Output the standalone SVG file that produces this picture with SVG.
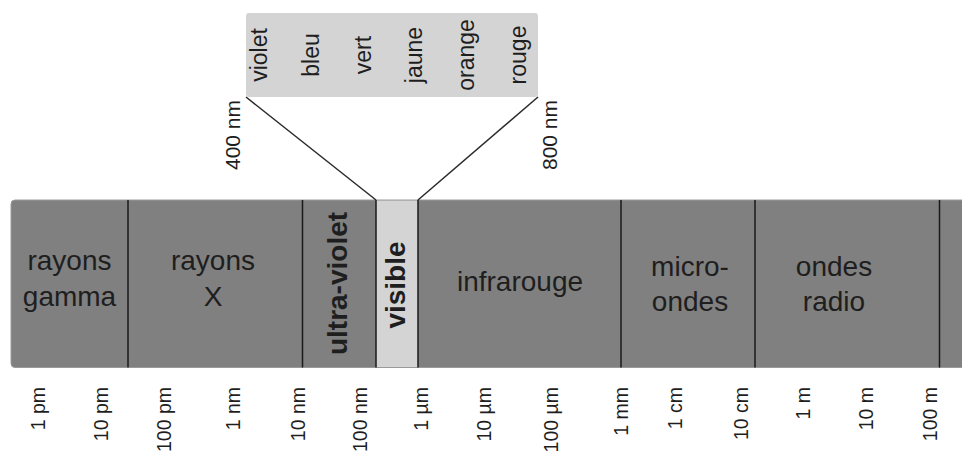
<svg xmlns="http://www.w3.org/2000/svg" width="962" height="453" viewBox="0 0 962 453">
<style>
  text { font-family: "Liberation Sans", Arial, sans-serif; fill: #1e1e1e; }
  .band { font-size: 28px; text-anchor: middle; }
  .bold { font-weight: bold; }
  .color { font-size: 23px; text-anchor: middle; }
  .wl { font-size: 19.5px; text-anchor: end; }
  .nm { font-size: 21px; text-anchor: end; }
  .div { stroke: #1a1a1a; stroke-width: 1.5; }
  .conn { stroke: #2a2a2a; stroke-width: 1.5; fill: none; }
</style>
<rect width="962" height="453" fill="#ffffff"/>

<g id="spectrum-bar">
  <rect x="11" y="200" width="980" height="167.5" rx="4" ry="4" fill="#808080" stroke="#9a9a9a" stroke-width="1"/>
  <rect x="376" y="200.5" width="42" height="166.5" fill="#d4d4d4"/>
  <line class="div" x1="128" y1="200" x2="128" y2="367.5"/>
  <line class="div" x1="302.5" y1="200" x2="302.5" y2="367.5"/>
  <line class="div" x1="376" y1="200" x2="376" y2="367.5"/>
  <line class="div" x1="418" y1="200" x2="418" y2="367.5"/>
  <line class="div" x1="621" y1="200" x2="621" y2="367.5"/>
  <line class="div" x1="755" y1="200" x2="755" y2="367.5"/>
  <line class="div" x1="939.5" y1="200" x2="939.5" y2="367.5"/>
</g>

<g id="gamma">
  <text class="band" x="69.5" y="270">rayons</text>
  <text class="band" x="69.5" y="306">gamma</text>
</g>
<g id="xray">
  <text class="band" x="213" y="270">rayons</text>
  <text class="band" x="213" y="306">X</text>
</g>
<g id="uv">
  <text class="band bold" transform="translate(347,283.5) rotate(-90)">ultra-violet</text>
</g>
<g id="visible">
  <text class="band bold" transform="translate(405,285) rotate(-90)">visible</text>
</g>
<g id="infrared">
  <text class="band" x="520" y="291">infrarouge</text>
</g>
<g id="microwave">
  <text class="band" x="690" y="276">micro-</text>
  <text class="band" x="690" y="311">ondes</text>
</g>
<g id="radio">
  <text class="band" x="834" y="276">ondes</text>
  <text class="band" x="834" y="311">radio</text>
</g>

<g id="visible-detail">
  <rect x="246" y="13" width="292" height="84" rx="3" ry="3" fill="#d4d4d4"/>
  <text class="color" transform="translate(267,55) rotate(-90)">violet</text>
  <text class="color" transform="translate(319,55) rotate(-90)">bleu</text>
  <text class="color" transform="translate(371,55) rotate(-90)">vert</text>
  <text class="color" transform="translate(422,55) rotate(-90)">jaune</text>
  <text class="color" transform="translate(474,55) rotate(-90)">orange</text>
  <text class="color" transform="translate(526,55) rotate(-90)">rouge</text>
</g>

<g id="visible-bounds">
  <text class="nm" transform="translate(240,100) rotate(-90)">400 nm</text>
  <text class="nm" transform="translate(557,100) rotate(-90)">800 nm</text>
</g>

<g id="connectors">
  <line class="conn" x1="246" y1="97" x2="376" y2="200"/>
  <line class="conn" x1="538" y1="97" x2="418" y2="200"/>
</g>

<g id="scale">
  <text class="wl" transform="translate(45,387) rotate(-90)">1 pm</text>
  <text class="wl" transform="translate(108,387) rotate(-90)">10 pm</text>
  <text class="wl" transform="translate(171,387) rotate(-90)">100 pm</text>
  <text class="wl" transform="translate(240,387) rotate(-90)">1 nm</text>
  <text class="wl" transform="translate(305,387) rotate(-90)">10 nm</text>
  <text class="wl" transform="translate(367,387) rotate(-90)">100 nm</text>
  <text class="wl" transform="translate(428,387) rotate(-90)">1 µm</text>
  <text class="wl" transform="translate(491,387) rotate(-90)">10 µm</text>
  <text class="wl" transform="translate(558,387) rotate(-90)">100 µm</text>
  <text class="wl" transform="translate(628,387) rotate(-90)">1 mm</text>
  <text class="wl" transform="translate(682,387) rotate(-90)">1 cm</text>
  <text class="wl" transform="translate(748,387) rotate(-90)">10 cm</text>
  <text class="wl" transform="translate(810,387) rotate(-90)">1 m</text>
  <text class="wl" transform="translate(873,387) rotate(-90)">10 m</text>
  <text class="wl" transform="translate(937,387) rotate(-90)">100 m</text>
</g>
</svg>
